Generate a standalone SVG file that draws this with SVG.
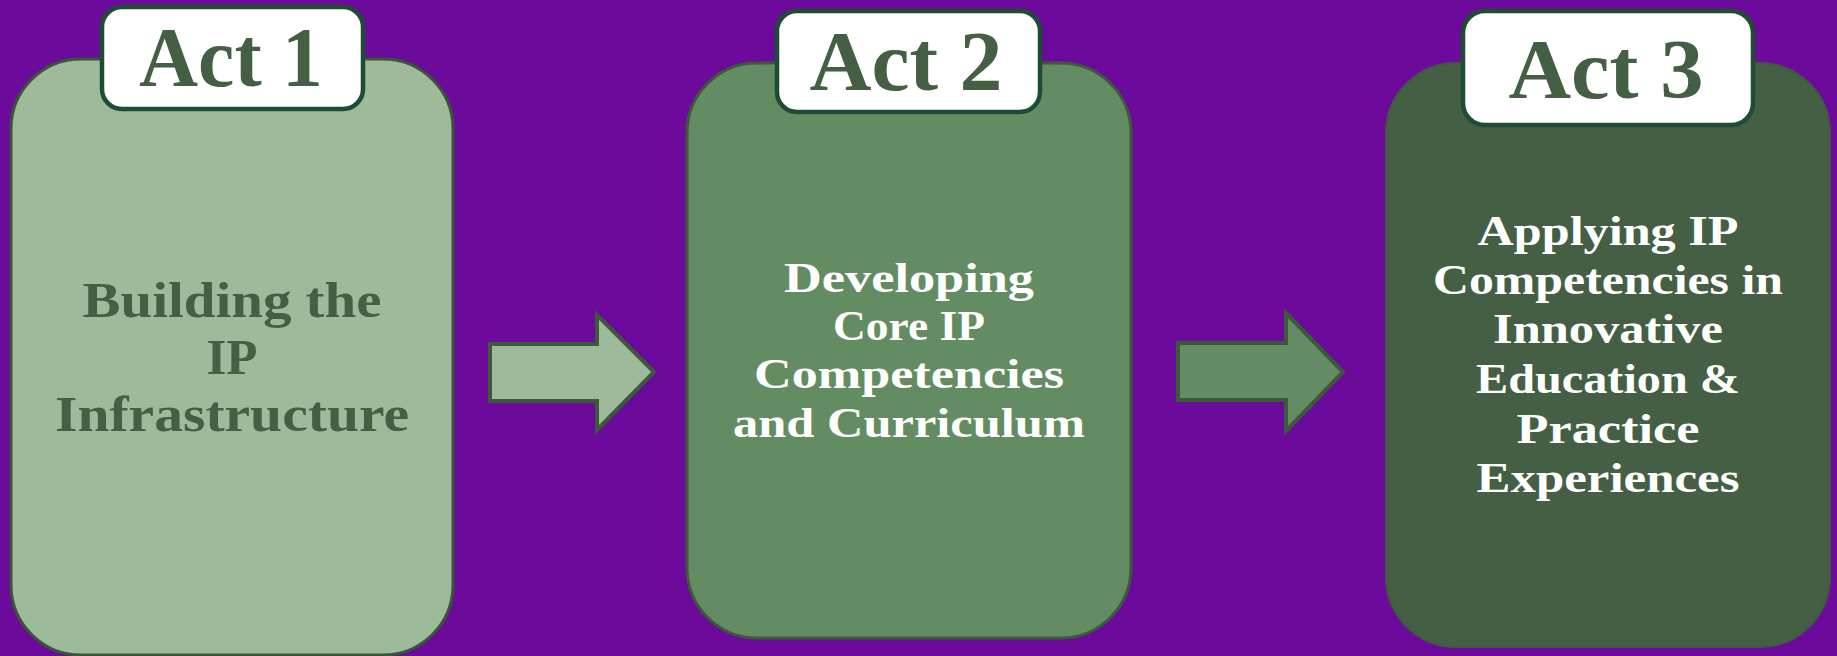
<svg xmlns="http://www.w3.org/2000/svg" width="1837" height="656" viewBox="0 0 1837 656">
  <style>
    .card { stroke-width: 3; }
    .tag { fill: #ffffff; stroke: #1e4d34; stroke-width: 4.5; }
    .tag-text { font-family: "Liberation Serif", "Times New Roman", serif; font-weight: bold; font-size: 84px; fill: #445f43; text-anchor: middle; }
    .body { font-family: "Liberation Serif", "Times New Roman", serif; font-weight: bold; text-anchor: middle; }
    .arrow { stroke: #3c5a3b; stroke-width: 4; stroke-linejoin: miter; }
  </style>

  <rect width="1837" height="656" fill="#6b0a9b"/>

  <!-- connectors -->
  <g id="connectors">
    <polygon class="arrow" fill="#9dbb9a" points="490,344 597,344 597,315 654,372 597,430 597,401 490,401"/>
    <polygon class="arrow" fill="#648c62" points="1178,343 1286,343 1286,313 1343,372 1286,431 1286,400 1178,400"/>
  </g>

  <!-- Act 1 -->
  <g id="act1">
    <rect class="card" x="11" y="59" width="442" height="596" rx="70" ry="70" fill="#9dbb9a" stroke="#3a5538"/>
    <rect class="tag" x="102" y="7" width="261" height="102" rx="20" ry="20"/>
    <text class="tag-text" x="231" y="86" textLength="184" lengthAdjust="spacingAndGlyphs">Act 1</text>
    <g class="body" font-size="51" fill="#445f43">
      <text x="232" y="317" textLength="299" lengthAdjust="spacingAndGlyphs">Building the</text>
      <text x="232" y="374" textLength="51" lengthAdjust="spacingAndGlyphs">IP</text>
      <text x="232" y="431" textLength="354" lengthAdjust="spacingAndGlyphs">Infrastructure</text>
    </g>
  </g>

  <!-- Act 2 -->
  <g id="act2">
    <rect class="card" x="687" y="63" width="444" height="575" rx="70" ry="70" fill="#648c62" stroke="#3c5a3b"/>
    <rect class="tag" x="777" y="11" width="263" height="101" rx="20" ry="20"/>
    <text class="tag-text" x="906" y="90" textLength="193" lengthAdjust="spacingAndGlyphs">Act 2</text>
    <g class="body" font-size="43" fill="#ffffff">
      <text x="909" y="292" textLength="250" lengthAdjust="spacingAndGlyphs">Developing</text>
      <text x="909" y="340" textLength="152" lengthAdjust="spacingAndGlyphs">Core IP</text>
      <text x="909" y="388" textLength="310" lengthAdjust="spacingAndGlyphs">Competencies</text>
      <text x="909" y="437" textLength="352" lengthAdjust="spacingAndGlyphs">and Curriculum</text>
    </g>
  </g>

  <!-- Act 3 -->
  <g id="act3">
    <rect x="1386" y="63" width="444" height="584" rx="70" ry="70" fill="#445f43" stroke="#3f5a3e" stroke-width="2"/>
    <rect class="tag" x="1463" y="11" width="290" height="114" rx="22" ry="22"/>
    <text class="tag-text" x="1606" y="98" textLength="195" lengthAdjust="spacingAndGlyphs">Act 3</text>
    <g class="body" font-size="43" fill="#ffffff">
      <text x="1608" y="245" textLength="261" lengthAdjust="spacingAndGlyphs">Applying IP</text>
      <text x="1608" y="294" textLength="350" lengthAdjust="spacingAndGlyphs">Competencies in</text>
      <text x="1608" y="343" textLength="230" lengthAdjust="spacingAndGlyphs">Innovative</text>
      <text x="1608" y="393" textLength="264" lengthAdjust="spacingAndGlyphs">Education &amp;</text>
      <text x="1608" y="443" textLength="183" lengthAdjust="spacingAndGlyphs">Practice</text>
      <text x="1608" y="492" textLength="263" lengthAdjust="spacingAndGlyphs">Experiences</text>
    </g>
  </g>
</svg>
